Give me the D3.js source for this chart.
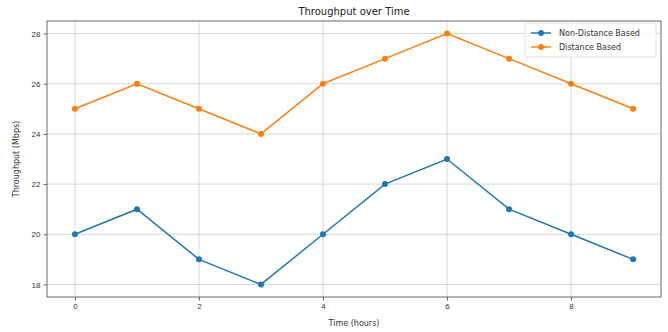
<!DOCTYPE html>
<html>
<head>
<meta charset="utf-8">
<script src="https://cdn.jsdelivr.net/npm/d3@7"></script>
<style>
  body { margin: 0; background: #fff; }
  svg { font-family: "DejaVu Sans", sans-serif; }
</style>
</head>
<body>
<svg id="chart" width="668" height="332"></svg>
<script>
const hours = [0, 1, 2, 3, 4, 5, 6, 7, 8, 9]
const nonDistance = [20, 21, 19, 18, 20, 22, 23, 21, 20, 19]
const distance = [25, 26, 25, 24, 26, 27, 28, 27, 26, 25]
const seriesNames = ['Non-Distance Based', 'Distance Based']
const xTicks = [0, 2, 4, 6, 8]
const yTicks = [18, 20, 22, 24, 26, 28]

const svg = d3.select('#chart')
const width = 668
const height = 332
const margin = { top: 21, right: 7, bottom: 35, left: 47 }
const innerW = width - margin.left - margin.right
const innerH = height - margin.top - margin.bottom

const x = d3.scaleLinear().domain([-0.45, 9.45]).range([0, innerW])
const y = d3.scaleLinear().domain([17.5, 28.5]).range([innerH, 0])
const colors = ['#1f77b4', '#ff7f0e']

const g = svg.append('g').attr('transform', `translate(${margin.left},${margin.top})`)

// grid
g.append('g').selectAll('line').data(xTicks).enter().append('line')
  .attr('x1', d => x(d)).attr('x2', d => x(d))
  .attr('y1', 0).attr('y2', innerH)
  .attr('stroke', '#b0b0b0').attr('stroke-width', 0.8).attr('opacity', 0.6)
g.append('g').selectAll('line').data(yTicks).enter().append('line')
  .attr('y1', d => y(d)).attr('y2', d => y(d))
  .attr('x1', 0).attr('x2', innerW)
  .attr('stroke', '#b0b0b0').attr('stroke-width', 0.8).attr('opacity', 0.6)

// axes
const xAxis = g.append('g')
  .attr('transform', `translate(0,${innerH})`)
  .call(d3.axisBottom(x).tickValues(xTicks).tickSize(3.5).tickPadding(3))
const yAxis = g.append('g')
  .call(d3.axisLeft(y).tickValues(yTicks).tickSize(3.5).tickPadding(3))
for (const ax of [xAxis, yAxis]) {
  ax.select('.domain').remove()
  ax.selectAll('text').attr('font-size', 8).attr('fill', '#333')
  ax.selectAll('line').attr('stroke', '#444').attr('stroke-width', 0.8)
}

g.append('rect')
  .attr('width', innerW).attr('height', innerH)
  .attr('fill', 'none').attr('stroke', '#444').attr('stroke-width', 0.8)

// lines
const line = d3.line().x((d, i) => x(hours[i])).y(d => y(d))
const allSeries = [nonDistance, distance]
allSeries.forEach((vals, si) => {
  g.append('path').datum(vals)
    .attr('d', line)
    .attr('fill', 'none')
    .attr('stroke', colors[si])
    .attr('stroke-width', 1.5)
  g.append('g').selectAll('circle').data(vals).enter().append('circle')
    .attr('cx', (d, i) => x(hours[i]))
    .attr('cy', d => y(d))
    .attr('r', 3)
    .attr('fill', colors[si])
})

// title and labels
svg.append('text')
  .attr('x', margin.left + innerW / 2).attr('y', 15)
  .attr('text-anchor', 'middle').attr('font-size', 10).attr('fill', '#222')
  .text('Throughput over Time')
svg.append('text')
  .attr('x', margin.left + innerW / 2).attr('y', 326)
  .attr('text-anchor', 'middle').attr('font-size', 8).attr('fill', '#333')
  .text('Time (hours)')
svg.append('text')
  .attr('transform', `translate(19,${margin.top + innerH / 2}) rotate(-90)`)
  .attr('text-anchor', 'middle').attr('font-size', 8).attr('fill', '#333')
  .text('Throughput (Mbps)')

// legend
const legend = g.append('g').attr('transform', `translate(${innerW - 136},2)`)
legend.append('rect')
  .attr('width', 131).attr('height', 34).attr('rx', 2)
  .attr('fill', '#fff').attr('fill-opacity', 0.8)
  .attr('stroke', '#ddd').attr('stroke-width', 0.8)
seriesNames.forEach((name, i) => {
  const ly = 10 + i * 14
  legend.append('line')
    .attr('x1', 6).attr('x2', 26).attr('y1', ly).attr('y2', ly)
    .attr('stroke', colors[i]).attr('stroke-width', 1.5)
  legend.append('circle').attr('cx', 16).attr('cy', ly).attr('r', 3).attr('fill', colors[i])
  legend.append('text')
    .attr('x', 34).attr('y', ly).attr('dy', '0.35em')
    .attr('font-size', 8).attr('fill', '#333')
    .text(name)
})
</script>
</body>
</html>
